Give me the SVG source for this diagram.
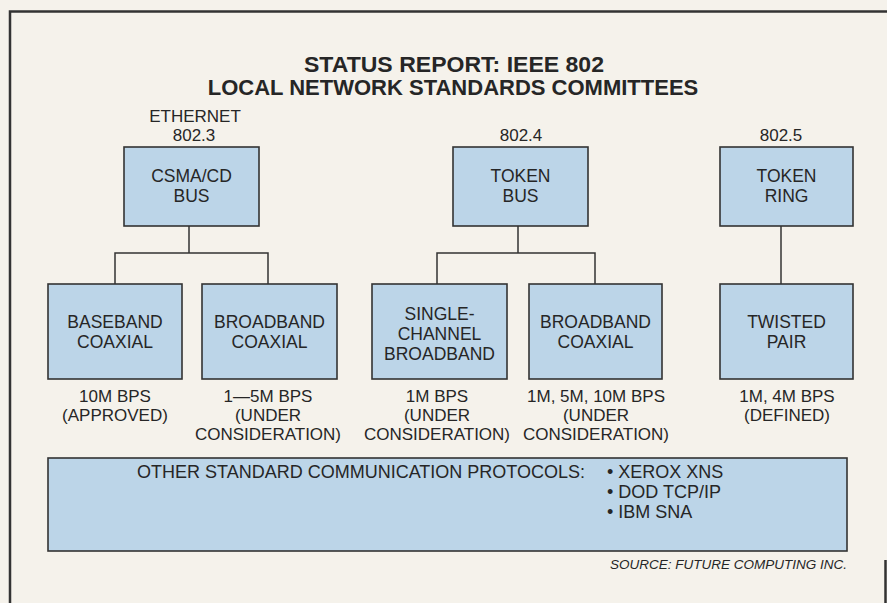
<svg xmlns="http://www.w3.org/2000/svg" width="887" height="603" viewBox="0 0 887 603">
<style>
.bg{fill:#f5f2eb}
.frame{fill:none;stroke:#333;stroke-width:2.5}
.box{fill:#bcd5e8;stroke:#333;stroke-width:1.6}
.con{fill:none;stroke:#333;stroke-width:1.5}
text{font-family:"Liberation Sans",Arial,sans-serif;fill:#262626;text-anchor:middle}
.title{font-size:22px;font-weight:bold}
.lbl{font-size:17px}
.t{font-size:17.5px}
.s{font-size:17px}
.l{font-size:18px;text-anchor:start}
.src{font-size:13.5px;font-style:italic;text-anchor:end}
</style>
<rect class="bg" x="0" y="0" width="887" height="603"/>
<path class="frame" d="M10,603 V11.5 H887"/>
<path class="frame" d="M885.5,560 V603"/>
<g id="title">
<text class="title" x="454" y="72" textLength="300" lengthAdjust="spacingAndGlyphs">STATUS REPORT: IEEE 802</text>
<text class="title" x="453" y="95">LOCAL NETWORK STANDARDS COMMITTEES</text>
</g>
<g id="connectors">
<path class="con" d="M189,226 V253 M115,284 V253 H268 V284"/>
<path class="con" d="M518,226 V253 M437,284 V253 H595 V284"/>
<path class="con" d="M781,226 V284"/>
</g>
<g id="csma">
<text class="lbl" x="195" y="122">ETHERNET</text>
<text class="lbl" x="194" y="141">802.3</text>
<rect class="box" x="124" y="147" width="135" height="79"/>
<text class="t" x="191.5" y="182">CSMA/CD</text>
<text class="t" x="191.5" y="202">BUS</text>
</g>
<g id="tokenbus">
<text class="lbl" x="521" y="141">802.4</text>
<rect class="box" x="453" y="147" width="135" height="79"/>
<text class="t" x="520.5" y="182">TOKEN</text>
<text class="t" x="520.5" y="202">BUS</text>
</g>
<g id="tokenring">
<text class="lbl" x="781" y="141">802.5</text>
<rect class="box" x="720" y="147" width="133" height="79"/>
<text class="t" x="786.5" y="182">TOKEN</text>
<text class="t" x="786.5" y="202">RING</text>
</g>
<g id="baseband">
<rect class="box" x="48" y="284" width="134" height="95"/>
<text class="t" x="115" y="328">BASEBAND</text>
<text class="t" x="115" y="348">COAXIAL</text>
<text class="s" x="115" y="402">10M BPS</text>
<text class="s" x="115" y="421">(APPROVED)</text>
</g>
<g id="broadband1">
<rect class="box" x="202" y="284" width="135" height="95"/>
<text class="t" x="269.5" y="328">BROADBAND</text>
<text class="t" x="269.5" y="348">COAXIAL</text>
<text class="s" x="268" y="402">1—5M BPS</text>
<text class="s" x="268" y="421">(UNDER</text>
<text class="s" x="268" y="440">CONSIDERATION)</text>
</g>
<g id="singlechannel">
<rect class="box" x="372" y="284" width="135" height="95"/>
<text class="t" x="439.5" y="320">SINGLE-</text>
<text class="t" x="439.5" y="340">CHANNEL</text>
<text class="t" x="439.5" y="360">BROADBAND</text>
<text class="s" x="437" y="402">1M BPS</text>
<text class="s" x="437" y="421">(UNDER</text>
<text class="s" x="437" y="440">CONSIDERATION)</text>
</g>
<g id="broadband2">
<rect class="box" x="529" y="284" width="133" height="95"/>
<text class="t" x="595.5" y="328">BROADBAND</text>
<text class="t" x="595.5" y="348">COAXIAL</text>
<text class="s" x="596" y="402">1M, 5M, 10M BPS</text>
<text class="s" x="596" y="421">(UNDER</text>
<text class="s" x="596" y="440">CONSIDERATION)</text>
</g>
<g id="twistedpair">
<rect class="box" x="720" y="284" width="133" height="95"/>
<text class="t" x="786.5" y="328">TWISTED</text>
<text class="t" x="786.5" y="348">PAIR</text>
<text class="s" x="787" y="402">1M, 4M BPS</text>
<text class="s" x="787" y="421">(DEFINED)</text>
</g>
<g id="protocols">
<rect class="box" x="48" y="458" width="799" height="93"/>
<text class="l" x="137" y="478">OTHER STANDARD COMMUNICATION PROTOCOLS:</text>
<text class="l" x="607" y="478">• XEROX XNS</text>
<text class="l" x="607" y="498">• DOD TCP/IP</text>
<text class="l" x="607" y="518">• IBM SNA</text>
</g>
<g id="source">
<text class="src" x="847" y="569">SOURCE: FUTURE COMPUTING INC.</text>
</g>
</svg>
